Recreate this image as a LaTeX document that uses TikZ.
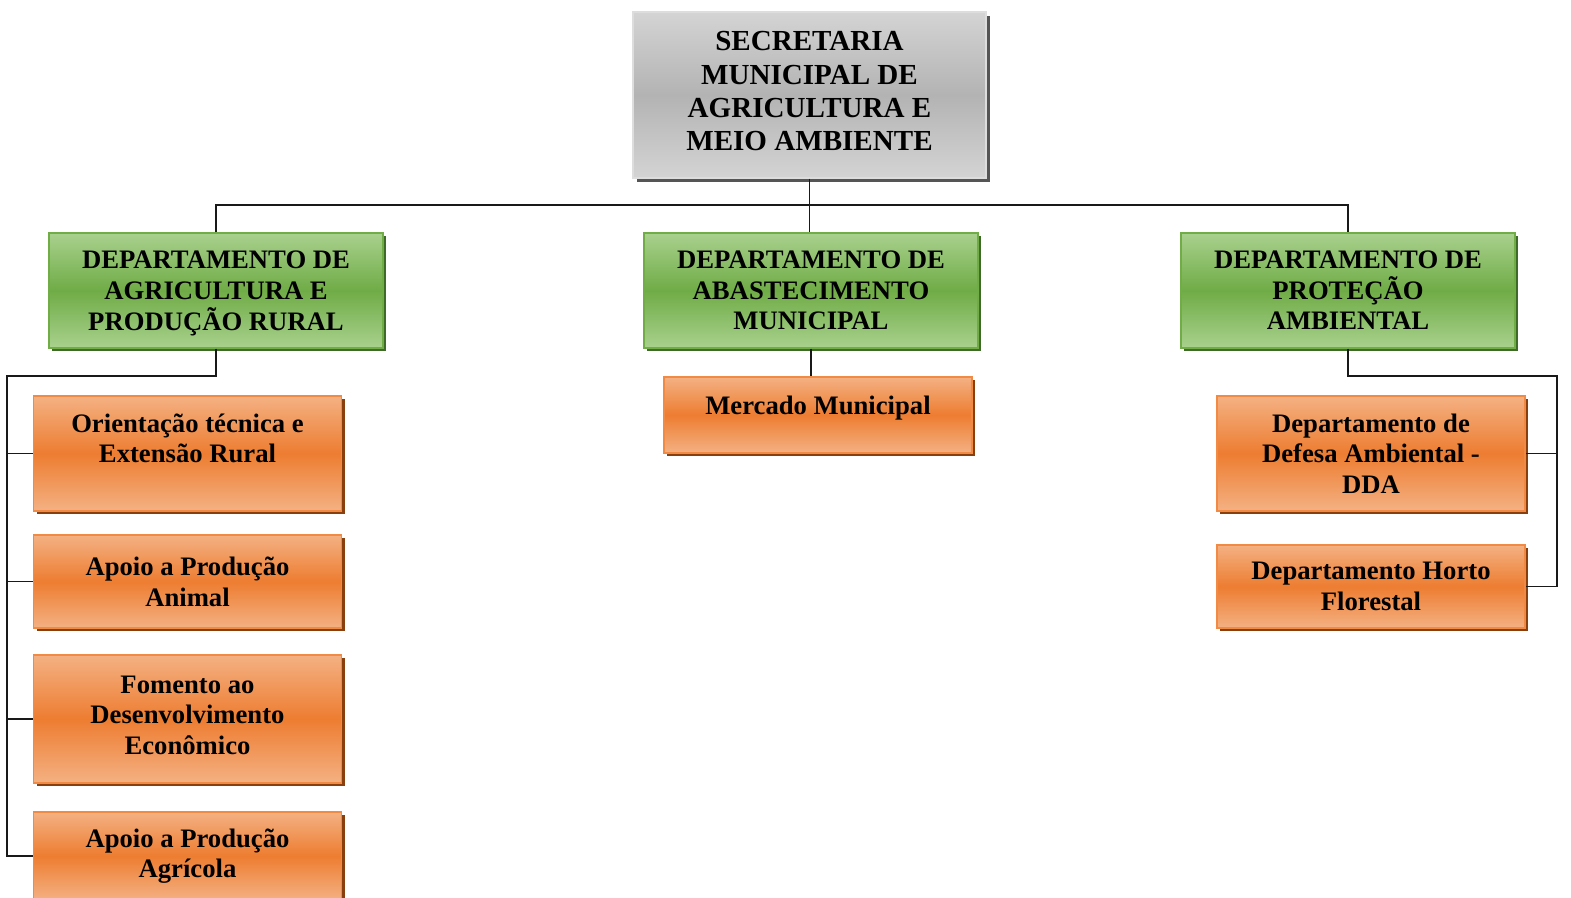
\documentclass[tikz,border=0pt]{standalone}
\usepackage{fontspec}
\setmainfont{Liberation Serif}
\usetikzlibrary{shadows}
\definecolor{gtop}{HTML}{D4D4D4}
\definecolor{gmid}{HTML}{B3B3B3}
\definecolor{gsh}{HTML}{555555}
\definecolor{grtop}{HTML}{A9D18E}
\definecolor{grmid}{HTML}{6FAC46}
\definecolor{grsh}{HTML}{3E6B27}
\definecolor{grbd}{HTML}{70AD47}
\definecolor{ortop}{HTML}{F4B183}
\definecolor{ormid}{HTML}{ED7D31}
\definecolor{orsh}{HTML}{8A3F0E}
\definecolor{orbd}{HTML}{F08A45}
\tikzset{
  box/.style={draw, line width=0.8pt, align=center, inner sep=2pt, shading=axis,
    font=\bfseries\fontsize{20}{23}\selectfont, text=black},
  topbox/.style={box, draw=gtop!80!white, top color=gtop, bottom color=gtop, middle color=gmid,
    general shadow={fill=gsh, shadow xshift=2.8pt, shadow yshift=-2.8pt},
    minimum width=264.75pt, minimum height=124.5pt,
    font=\bfseries\fontsize{21.8}{24.9}\selectfont},
  greenbox/.style={box, draw=grbd, top color=grtop, bottom color=grtop, middle color=grmid,
    general shadow={fill=grsh, shadow xshift=2.6pt, shadow yshift=-2.6pt},
    minimum width=250.5pt, minimum height=86.25pt},
  orbox/.style={box, draw=orbd, top color=ortop, bottom color=ortop, middle color=ormid,
    general shadow={fill=orsh, shadow xshift=2.6pt, shadow yshift=-2.6pt},
    minimum width=231.5pt},
  link/.style={draw=black!90, line width=1.4pt}
}
\newcommand{\nodepth}[1]{\raisebox{0pt}[\height][0pt]{#1}}
\begin{document}
\begin{tikzpicture}[x=0.75pt,y=-0.75pt]
\useasboundingbox (0,0) rectangle (1571,897);
% top
\node[topbox] (top) at (809.5,95) {SECRETARIA\\MUNICIPAL DE\\AGRICULTURA E\\MEIO AMBIENTE\\[-18.9pt]\mbox{}};
% departments
\node[greenbox] (g1) at (216,290.5) {DEPARTAMENTO DE\\AGRICULTURA E\\\nodepth{PRODUÇÃO RURAL}};
\node[greenbox] (g2) at (811,290.5) {DEPARTAMENTO DE\\ABASTECIMENTO\\MUNICIPAL};
\node[greenbox] (g3) at (1348,290.5) {DEPARTAMENTO DE\\PROTEÇÃO\\AMBIENTAL};
% left children
\node[orbox, minimum height=86.25pt] (b1) at (187.5,453.5) {Orientação técnica e\\Extensão Rural\\\mbox{}};
\node[orbox, minimum height=69.75pt] (b2) at (187.5,581.5) {Apoio a Produção\\Animal};
\node[orbox, minimum height=96pt] (b3) at (187.5,719) {Fomento ao\\Desenvolvimento\\Econômico\\[-17pt]\mbox{}};
\node[orbox, minimum height=66pt] (b4) at (187.5,856) {Apoio a Produção\\Agrícola};
% middle child
\node[orbox, minimum width=231pt, minimum height=57pt] (m1) at (818,415) {Mercado Municipal\\[-8pt]\mbox{}};
% right children
\node[orbox, minimum width=231pt, minimum height=86.25pt] (r1) at (1371,453.5) {Departamento de\\Defesa Ambiental -\\DDA};
\node[orbox, minimum width=231pt, minimum height=62.25pt] (r2) at (1371,586.5) {Departamento Horto\\\nodepth{Florestal}};
% bus coordinates
\coordinate (hbus) at (810,205);
\coordinate (lbus) at (7,376);
\coordinate (rbus) at (1557,376);
% connectors
\draw[link] (top.south) -- (top.south |- g2.north);
\draw[link] (g1.north) -- (g1.north |- hbus) -- (g3.north |- hbus) -- (g3.north);
\draw[link] (g1.south) |- (lbus) -- (lbus |- b4.west) -- (b4.west);
\draw[link] (lbus |- b1.west) -- (b1.west);
\draw[link] (lbus |- b2.west) -- (b2.west);
\draw[link] (lbus |- b3.west) -- (b3.west);
\draw[link] (g2.south) -- (g2.south |- m1.north);
\draw[link] (g3.south) |- (rbus) -- (rbus |- r2.east) -- (r2.east);
\draw[link] (rbus |- r1.east) -- (r1.east);
\end{tikzpicture}
\end{document}
